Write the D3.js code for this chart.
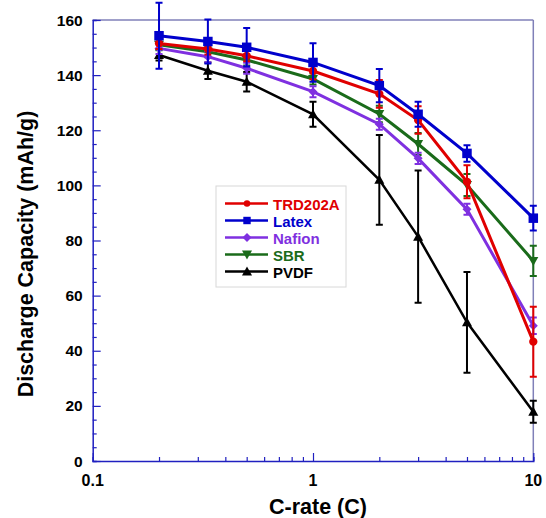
<!DOCTYPE html>
<html>
<head>
<meta charset="utf-8">
<script src="https://cdn.jsdelivr.net/npm/d3@7"></script>
<style>
  body { margin: 0; background: #fff; }
  text { font-family: "Liberation Sans", Arial, sans-serif; font-weight: bold; }
</style>
</head>
<body>
<svg id="chart" width="546" height="518"></svg>
<script>
// C-rates used for every series
const rates = [0.2, 1/3, 0.5, 1, 2, 3, 5, 10];

// discharge capacity (mAh/g) and error half-widths
const trd202a     = [151.5, 149.5, 147.0, 141.5, 133.2, 123.7, 101.3, 43.3];
const trd202a_err = [2, 2, 2, 3, 5, 5, 6, 12.7];
const latex       = [154.3, 152.2, 150.1, 144.6, 136.2, 125.8, 111.6, 88.1];
const latex_err   = [12, 8, 7, 7, 6, 4.5, 3, 4.5];
const nafion      = [149.7, 146.7, 142.5, 134.0, 122.2, 109.8, 91.3, 49.1];
const nafion_err  = [2, 2, 2, 2, 2, 2, 2, 3];
const sbr         = [151.0, 148.5, 145.5, 138.6, 125.9, 115.0, 100.1, 72.6];
const sbr_err     = [2, 2, 2, 2, 3, 4, 4, 5.5];
const pvdf        = [147.3, 141.6, 137.6, 125.8, 102.0, 81.4, 50.3, 17.9];
const pvdf_err    = [2, 3, 3.5, 4.5, 16.3, 24, 18.3, 4];

const series_names = ["TRD202A", "Latex", "Nafion", "SBR", "PVDF"];
const y_ticks = [0, 20, 40, 60, 80, 100, 120, 140, 160];
const x_tick_labels = [0.1, 1, 10];

const series = [
  {name: "PVDF",    values: pvdf,    err: pvdf_err,    color: "#000000", marker: "up"},
  {name: "SBR",     values: sbr,     err: sbr_err,     color: "#1a6b1a", marker: "down"},
  {name: "Nafion",  values: nafion,  err: nafion_err,  color: "#7f30e0", marker: "diamond"},
  {name: "TRD202A", values: trd202a, err: trd202a_err, color: "#e00000", marker: "circle"},
  {name: "Latex",   values: latex,   err: latex_err,   color: "#0000cc", marker: "square"}
];
const by_name = {};
series.forEach(s => by_name[s.name] = s);

const svg = d3.select("#chart");
const PLOT_LEFT = 92.7, PLOT_RIGHT = 533.3, PLOT_TOP = 20, PLOT_BOTTOM = 461;

const x = d3.scaleLog().domain([0.1, 10]).range([PLOT_LEFT, PLOT_RIGHT]);
const y = d3.scaleLinear().domain([0, 160]).range([PLOT_BOTTOM, PLOT_TOP]);

function marker_path(type, size){
  const s = size;
  if(type == "circle") return d3.symbol().type(d3.symbolCircle).size(s * 0.6)();
  if(type == "square") return d3.symbol().type(d3.symbolSquare).size(s)();
  if(type == "diamond") return "M0,-4.5L4.5,0L0,4.5L-4.5,0Z";
  if(type == "up") return "M0,-5L5,4L-5,4Z";
  if(type == "down") return "M0,5L5,-4L-5,-4Z";
}

// frame
svg.append("line").attr("x1", PLOT_LEFT).attr("x2", PLOT_RIGHT).attr("y1", PLOT_TOP).attr("y2", PLOT_TOP)
  .attr("stroke", "#8080b8").attr("stroke-width", 1.5);
svg.append("line").attr("x1", PLOT_RIGHT).attr("x2", PLOT_RIGHT).attr("y1", PLOT_TOP).attr("y2", PLOT_BOTTOM)
  .attr("stroke", "#8080b8").attr("stroke-width", 1.5);

// y axis
const y_axis = svg.append("g").attr("transform", "translate(" + PLOT_LEFT + ",0)")
  .call(d3.axisRight(y).tickValues(d3.range(0, 161, 5)).tickSize(4).tickFormat(""));
y_axis.selectAll(".tick line")
  .attr("x2", d => d % 20 == 0 ? 8 : 4)
  .attr("stroke", "#2020c0").attr("stroke-width", 1.2);
y_axis.select(".domain").attr("stroke", "#2020c0").attr("stroke-width", 1.5);
svg.append("g").selectAll("text").data(y_ticks).enter().append("text")
  .attr("x", PLOT_LEFT - 10).attr("y", d => y(d) + 5.5)
  .attr("text-anchor", "end").attr("font-size", 15.5)
  .text(d => d);

// x axis
const minor = [];
[0.1, 1].forEach(dec => d3.range(1, 10).forEach(k => minor.push(dec * k)));
minor.push(10);
const x_axis = svg.append("g").attr("transform", "translate(0," + PLOT_BOTTOM + ")")
  .call(d3.axisTop(x).tickValues(minor).tickSize(4).tickFormat(""));
x_axis.selectAll(".tick line")
  .attr("y2", d => Math.abs(Math.log10(d) % 1) < 1e-6 ? -8 : -4)
  .attr("stroke", "#2020c0").attr("stroke-width", 1.2);
x_axis.select(".domain").attr("stroke", "#2020c0").attr("stroke-width", 1.5);
svg.append("g").selectAll("text").data(x_tick_labels).enter().append("text")
  .attr("x", d => x(d)).attr("y", PLOT_BOTTOM + 25)
  .attr("text-anchor", "middle").attr("font-size", 16)
  .text(d => d);

// axis titles
svg.append("text").attr("x", 318).attr("y", 514)
  .attr("text-anchor", "middle").attr("font-size", 21.5).text("C-rate (C)");
svg.append("text").attr("transform", "translate(33,254) rotate(-90)")
  .attr("text-anchor", "middle").attr("font-size", 21.5).text("Discharge Capacity (mAh/g)");

// series
const line = d3.line().x(d => x(d[0])).y(d => y(d[1]));
series.forEach(s => {
  const pts = rates.map((r, i) => [r, s.values[i], s.err[i]]);
  const g = svg.append("g").attr("class", "series");
  g.selectAll("path.err").data(pts).enter().append("path")
    .attr("class", "err")
    .attr("d", d => {
      const cx = x(d[0]), y1 = y(d[1] + d[2]), y2 = y(d[1] - d[2]);
      return "M" + (cx - 3.5) + "," + y1 + "H" + (cx + 3.5) +
             "M" + cx + "," + y1 + "V" + y2 +
             "M" + (cx - 3.5) + "," + y2 + "H" + (cx + 3.5);
    })
    .attr("fill", "none").attr("stroke", s.color).attr("stroke-width", 2);
  g.append("path").datum(pts).attr("d", line)
    .attr("fill", "none").attr("stroke", s.color)
    .attr("stroke-width", s.name == "PVDF" ? 2.5 : 3);
  g.selectAll("path.mk").data(pts).enter().append("path")
    .attr("class", "mk")
    .attr("transform", d => "translate(" + x(d[0]) + "," + y(d[1]) + ")")
    .attr("d", marker_path(s.marker, 90))
    .attr("fill", s.color);
});

// legend
const lg = svg.append("g").attr("transform", "translate(216,186)");
lg.append("rect").attr("width", 130).attr("height", 101)
  .attr("fill", "#fff").attr("stroke", "#d8d8d8").attr("stroke-width", 1);
series_names.forEach((name, i) => {
  const s = by_name[name];
  const row = lg.append("g").attr("transform", "translate(0," + (17.5 + i * 17) + ")");
  row.append("line").attr("x1", 9).attr("x2", 52).attr("y1", 0).attr("y2", 0)
    .attr("stroke", s.color).attr("stroke-width", 2.5);
  row.append("path").attr("transform", "translate(31,0)")
    .attr("d", marker_path(s.marker, 55)).attr("fill", s.color);
  row.append("text").attr("x", 57).attr("y", 6).attr("font-size", 15)
    .attr("fill", s.color).text(name);
});
</script>
</body>
</html>
